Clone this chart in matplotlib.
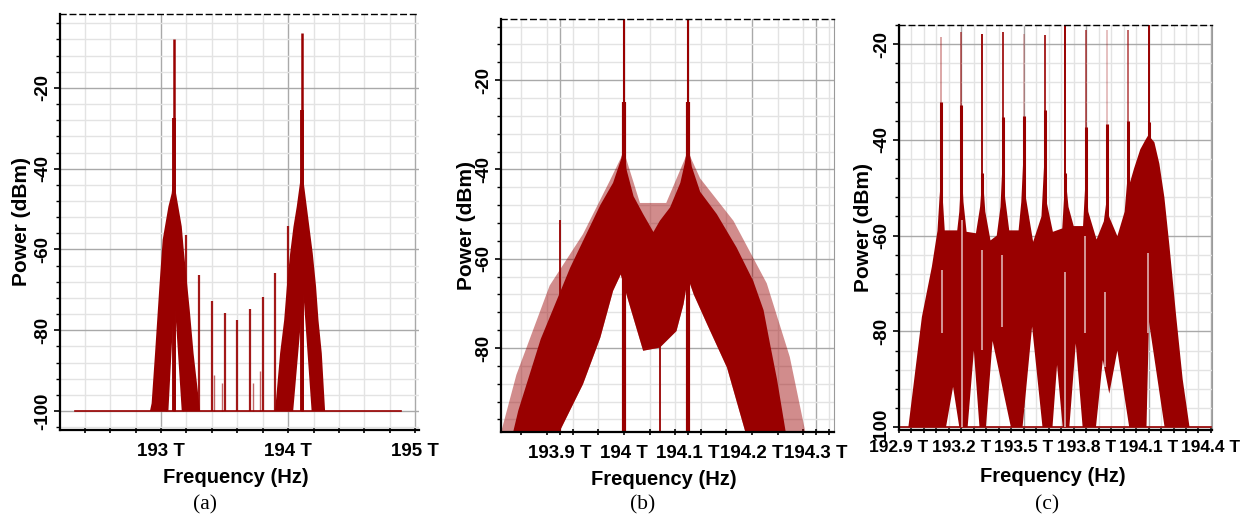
import numpy as np
import matplotlib.pyplot as plt
from matplotlib.ticker import FixedLocator, MultipleLocator

W, H = 1240, 518
DARK = '#990000'
GHOST = '#d9a3a3'

# ---------------- panel (a) ----------------
a_floor_f = [192.32, 194.89]
a_floor_db = [-100, -100]
a_l_up_f = [192.913, 192.926, 192.953, 192.987, 193.013, 193.058, 193.084, 193.097,
            193.118, 193.163, 193.18, 193.226, 193.256, 193.307]
a_l_up_db = [-100, -98.1, -85.7, -69.2, -57.6, -49.4, -46.1, -42,
             -46.1, -54.3, -60.5, -75, -85.7, -100]
a_l_low_f = [192.913, 193.058, 193.105, 193.163, 193.307]
a_l_low_db = [-100, -100, -71.7, -100, -100]
a_r_up_f = [193.895, 193.898, 193.937, 193.969, 193.99, 194.016, 194.042, 194.068, 194.1,
            194.113, 194.147, 194.194, 194.22, 194.239, 194.265, 194.291]
a_r_up_db = [-100, -99.8, -85.7, -77.5, -69.2, -61, -54.4, -49.4, -42,
             -41, -49.4, -61, -69.2, -77.5, -85.7, -100]
a_r_low_f = [193.895, 194.04, 194.12, 194.185, 194.291]
a_r_low_db = [-100, -100, -70.8, -100, -100]
a_carrier_f = [193.1, 194.11]
a_carrier_top = [-8, -6.5]
a_carrier_mid = [-27.4, -25.4]
a_tone_f = [193.2, 193.3, 193.4, 193.5, 193.6, 193.7, 193.8, 193.9, 194.0]
a_tone_db = [-56.4, -66.3, -72.7, -75.8, -77.5, -74.7, -71.8, -65.9, -54.3]
a_small_f = [193.04, 193.17, 193.42, 193.48, 193.72, 193.78]
a_small_db = [-89, -96, -91, -93, -93, -90]
a_xticks = [193, 194, 195]
a_xlabels = ['193 T', '194 T', '195 T']
a_yticks = [-100, -80, -60, -40, -20]

# ---------------- panel (b) ----------------
b_up_f = [193.825, 193.835, 193.87, 193.916, 193.963, 193.983, 193.996, 194.0, 194.004,
          194.015, 194.03, 194.046, 194.056, 194.072, 194.088, 194.095, 194.1, 194.106,
          194.119, 194.145, 194.176, 194.202, 194.218, 194.228, 194.239, 194.254]
b_up_db = [-100, -94, -78, -62, -48, -43, -37.5, -34, -40,
           -46, -50, -54, -51.5, -48.5, -43, -38.6, -34, -39.4,
           -45, -50, -57.5, -65, -71.5, -79, -87, -100]
b_low_f = [193.825, 193.895, 193.936, 193.963, 193.983, 193.995, 194.007, 194.03, 194.056,
           194.082, 194.093, 194.1, 194.109, 194.13, 194.161, 194.192, 194.254]
b_low_db = [-100, -100, -88.1, -77.7, -67.2, -63.5, -69.5, -80.6, -79.9,
            -76.2, -70.2, -64.3, -68, -74.7, -84.4, -100, -100]
b_fringe_f = [193.806, 193.832, 193.884, 193.936, 193.978, 194.0, 194.025, 194.066, 194.1,
              194.119, 194.171, 194.223, 194.259, 194.285]
b_fringe_db = [-100, -86, -66, -54.5, -42.5, -36, -47.5, -47.5, -36,
               -42, -51.5, -65.5, -82, -100]
b_carrier_f = [194.0, 194.1]
b_carrier_mid = [-25, -25]
b_spike_f = [193.9, 194.056]
b_spike_lo = [-100, -100]
b_spike_hi = [-51.3, -79]
b_xticks = [193.9, 194.0, 194.1, 194.2, 194.3]
b_xlabels = ['193.9 T', '194 T', '194.1 T', '194.2 T', '194.3 T']
b_yticks = [-80, -60, -40, -20]

# ---------------- panel (c) ----------------
c_up_f = [192.9, 192.945, 193.01, 193.058, 193.085, 193.095, 193.102, 193.11, 193.12, 193.18,
          193.19, 193.201, 193.21, 193.225, 193.27, 193.29, 193.302, 193.315, 193.34, 193.37,
          193.388, 193.398, 193.41, 193.43, 193.475, 193.488, 193.498, 193.51, 193.545, 193.585,
          193.599, 193.61, 193.64, 193.685, 193.7, 193.715, 193.74, 193.785, 193.799, 193.81,
          193.85, 193.885, 193.898, 193.91, 193.95, 193.985, 193.999, 194.01, 194.03, 194.06,
          194.085, 194.099, 194.128, 194.152, 194.176, 194.2, 194.232, 194.264, 194.297, 194.4]
c_up_db = [-100, -100, -77, -66.5, -59, -52, -48, -52, -58.9, -58.9,
           -55, -45.7, -53, -59.2, -59.5, -54, -47.1, -55, -61, -60,
           -54, -44.6, -52, -58.9, -58.9, -53, -43.6, -52, -61.3, -56,
           -44.2, -53, -59.2, -58.5, -47.4, -54, -58, -58, -46.7, -55,
           -60.8, -57, -52.6, -56, -60.1, -55, -47.7, -49, -46, -42,
           -40, -39, -40.5, -45, -52, -62, -76.5, -90, -100, -100]
c_low_f = [192.9, 193.126, 193.16, 193.19, 193.23, 193.26, 193.287, 193.318, 193.35, 193.438,
           193.494, 193.54, 193.59, 193.638, 193.66, 193.687, 193.719, 193.75, 193.783, 193.847,
           193.88, 193.911, 193.95, 194.007, 194.09, 194.102, 194.177, 194.4]
c_low_db = [-100, -100, -91.6, -100, -100, -84, -100, -100, -82, -100,
            -100, -79, -100, -100, -87, -100, -100, -82.5, -100, -100,
            -86, -93, -84, -100, -100, -78, -100, -100]
c_carrier_f = [193.1, 193.2, 193.3, 193.4, 193.5, 193.6, 193.7, 193.8, 193.9, 194.0, 194.1]
c_line_top = [-18.5, -17.4, -17.8, -17.4, -17.8, -18.0, -16.0, -17.1, -17.1, -17.1, -16.0]
c_line_alpha = [0.35, 0.55, 0.95, 0.85, 0.25, 0.85, 1.0, 0.6, 0.25, 0.6, 1.0]
c_mid_top = [-32.1, -32.8, -47, -35.2, -35.0, -33.8, -47, -37.4, -36.7, -36.0, -36.2]
c_ghost_f = [193.105, 193.201, 193.301, 193.397, 193.7, 193.795, 193.892, 194.099]
c_ghost_hi = [-67.1, -56.8, -62.9, -64.0, -67.6, -60.0, -71.8, -63.6]
c_ghost_lo = [-80.4, -100, -83.9, -79.0, -100, -80.4, -87.4, -80.4]
c_xticks = [192.9, 193.2, 193.5, 193.8, 194.1, 194.4]
c_xlabels = ['192.9 T', '193.2 T', '193.5 T', '193.8 T', '194.1 T', '194.4 T']
c_yticks = [-100, -80, -60, -40, -20]

plt.rcParams['font.family'] = ['Liberation Sans', 'DejaVu Sans']


def make_axes(fig, left, top, right, bottom):
    return fig.add_axes([left / W, 1 - bottom / H, (right - left) / W, (bottom - top) / H])


def style(ax, xlim, ylim, xticks, xlabels, yticks, xminor, right_spine, xlab_pad, ylab_x, xfs):
    ax.set_xlim(*xlim)
    ax.set_ylim(*ylim)
    ax.xaxis.set_major_locator(FixedLocator(xticks))
    ax.set_xticklabels(xlabels, fontsize=xfs, fontweight='bold')
    ax.xaxis.set_minor_locator(MultipleLocator(xminor))
    ax.yaxis.set_major_locator(FixedLocator(yticks))
    ax.set_yticklabels([str(v) for v in yticks], fontsize=13.5, fontweight='bold',
                       rotation=90, va='center')
    ax.yaxis.set_minor_locator(MultipleLocator(4))
    ax.set_axisbelow(True)
    ax.grid(which='major', color='#a9a9a9', lw=1.0)
    ax.grid(which='minor', color='#e3e3e3', lw=1.0)
    ax.tick_params(axis='y', which='major', direction='out', length=4, width=1.2, pad=2)
    ax.tick_params(axis='y', which='minor', direction='out', length=3, width=1.0)
    ax.tick_params(axis='x', which='both', direction='inout', length=4, width=1.2, pad=xlab_pad)
    for s in ('left', 'bottom'):
        ax.spines[s].set_color('black')
        ax.spines[s].set_linewidth(1.6)
    ax.spines['top'].set_linestyle((0, (4, 3)))
    ax.spines['top'].set_linewidth(1.0)
    if right_spine:
        ax.spines['right'].set_linestyle((0, (1, 1)))
        ax.spines['right'].set_color('#9a9a9a')
    else:
        ax.spines['right'].set_visible(False)
    ax.set_xlabel('Frequency (Hz)', fontsize=14.5, fontweight='bold')
    ax.set_ylabel('Power (dBm)', fontsize=15, fontweight='bold')
    ax.xaxis.set_label_coords(0.49, -0.115)
    ax.yaxis.set_label_coords(ylab_x, 0.5)
    ax.xaxis.label.set_va('center')
    ax.yaxis.label.set_va('center')


fig = plt.figure(figsize=(W / 100, H / 100), dpi=100)

# (a)
ax1 = make_axes(fig, 60, 14, 419, 430)
ax1.plot(a_floor_f, a_floor_db, color=DARK, lw=1.2)
ax1.fill(a_l_up_f + a_l_low_f[::-1], a_l_up_db + a_l_low_db[::-1], color=DARK, lw=0)
ax1.fill(a_r_up_f + a_r_low_f[::-1], a_r_up_db + a_r_low_db[::-1], color=DARK, lw=0)
ax1.vlines(a_carrier_f, -100, a_carrier_top, color=DARK, lw=1.8)
ax1.vlines(a_carrier_f, -100, a_carrier_mid, color=DARK, lw=2.8)
ax1.vlines(a_tone_f, -100, a_tone_db, color=DARK, lw=1.6, alpha=0.9)
ax1.vlines(a_small_f, -100, a_small_db, color=DARK, lw=1.0, alpha=0.6)
style(ax1, (192.205, 195.03), (-104.7, -1.7), a_xticks, a_xlabels, a_yticks, 0.2, False, 7,
      -0.108, 13.5)

# (b)
ax2 = make_axes(fig, 501, 19, 834, 432)
ax2.fill(b_fringe_f + b_low_f[::-1], b_fringe_db + b_low_db[::-1], color=DARK, alpha=0.45, lw=0)
ax2.fill(b_up_f + b_low_f[::-1], b_up_db + b_low_db[::-1], color=DARK, lw=0)
ax2.vlines(b_carrier_f, -100, 0, color=DARK, lw=1.5)
ax2.vlines(b_carrier_f, -100, b_carrier_mid, color=DARK, lw=3.0)
ax2.vlines(b_spike_f, b_spike_lo, b_spike_hi, color=DARK, lw=1.3)
style(ax2, (193.808, 194.328), (-98.8, -6.3), b_xticks, b_xlabels, b_yticks, 0.04, True, 7,
      -0.105, 13.5)

# (c)
ax3 = make_axes(fig, 899, 25, 1212, 430)
ax3.plot([192.9, 194.4], [-100, -100], color=DARK, lw=1.2)
ax3.fill(c_up_f + c_low_f[::-1], c_up_db + c_low_db[::-1], color=DARK, lw=0)
for f, top, al, mid in zip(c_carrier_f, c_line_top, c_line_alpha, c_mid_top):
    ax3.vlines(f, -58, top, color=DARK, lw=1.4, alpha=al)
    ax3.vlines(f, -58, mid, color=DARK, lw=2.2)
ax3.vlines(c_ghost_f, c_ghost_lo, c_ghost_hi, color=GHOST, lw=1.3)
style(ax3, (192.9, 194.405), (-100.6, -16.0), c_xticks, c_xlabels, c_yticks, 0.06, True, 5,
      -0.112, 12.5)

# captions
for x, t in [(205, '(a)'), (643, '(b)'), (1047, '(c)')]:
    fig.text(x / W, 1 - 505 / H, t, ha='center', va='center', fontsize=15.5,
             family='Liberation Serif')

fig.savefig('out.png', dpi=100)
